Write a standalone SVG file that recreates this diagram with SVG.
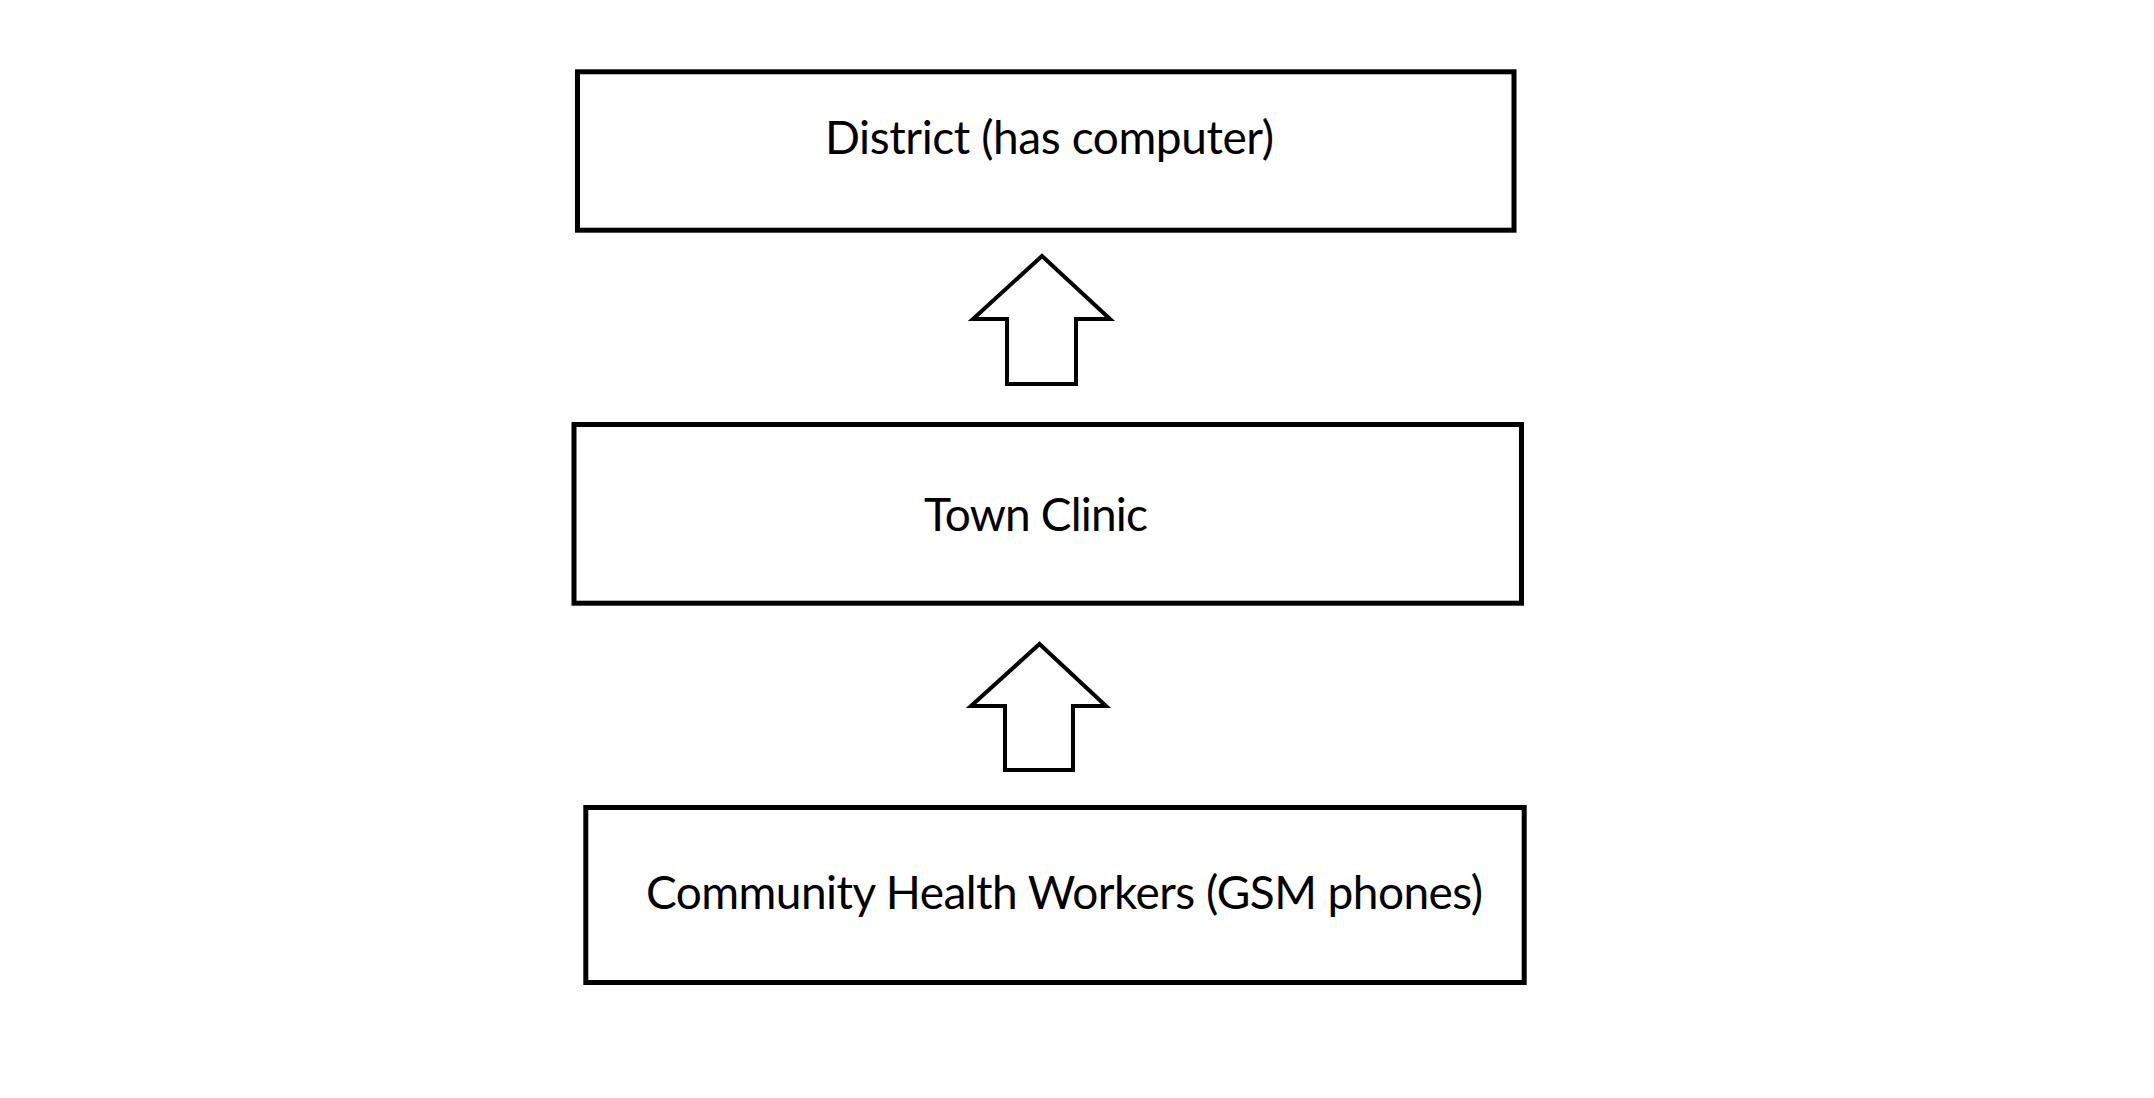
<svg xmlns="http://www.w3.org/2000/svg" width="2154" height="1098" viewBox="0 0 2154 1098">
<style>
.box{fill:#fff;stroke:#000;stroke-width:5}
.lbl{font-family:Lato,"Open Sans","Liberation Sans",sans-serif;font-size:46px;fill:#000}
.arr{fill:#fff;stroke:#000;stroke-width:4;stroke-linejoin:miter}
</style>
<rect width="2154" height="1098" fill="#fff"/>
<g id="district">
<rect class="box" x="577.5" y="71.8" width="936.5" height="158.4"/>
<text class="lbl" x="825" y="154" textLength="449">District (has computer)</text>
</g>
<g id="town-clinic">
<rect class="box" x="574" y="424.5" width="947.5" height="178.7"/>
<text class="lbl" x="924" y="531" textLength="224">Town Clinic</text>
</g>
<g id="chw">
<rect class="box" x="585.8" y="807.5" width="938.4" height="175"/>
<text class="lbl" x="646" y="909" textLength="837">Community Health Workers (GSM phones)</text>
</g>
<g id="connectors">
<polygon class="arr" points="1042,256 1110,319 1076,319 1076,384 1007,384 1007,319 973,319"/>
<polygon class="arr" points="1039.5,644 1106,706 1073,706 1073,770 1005,770 1005,706 971,706"/>
</g>
</svg>
